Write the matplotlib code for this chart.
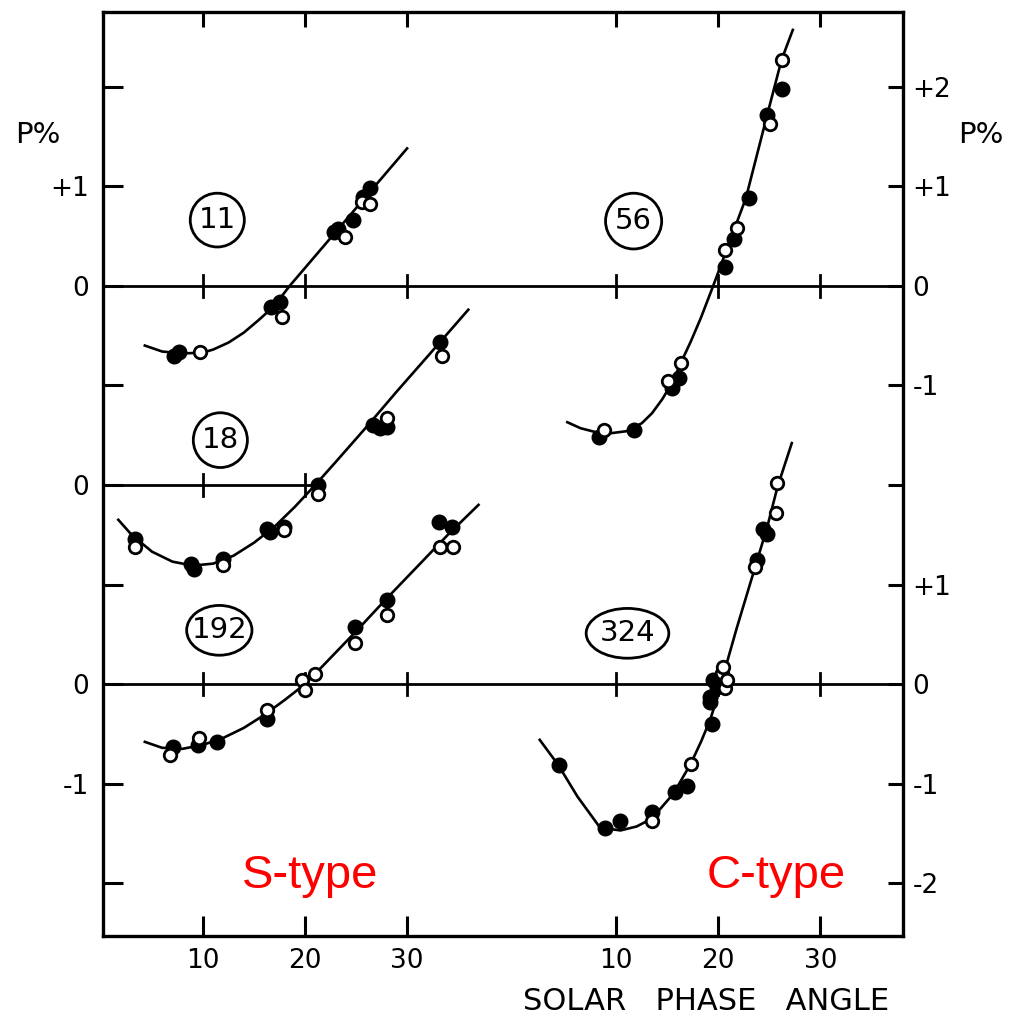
import numpy as np
import matplotlib.pyplot as plt
from matplotlib.patches import Ellipse

plt.rcParams['font.family'] = ['DejaVu Sans']

# phase angle (deg) and polarization P (%) for each asteroid
# filled = one filter, open = the other
a11_fill = [7.2, 7.6, 16.7, 17.5, 22.8, 23.2, 24.7, 25.7, 26.4]
p11_fill = [-0.70, -0.66, -0.21, -0.16, 0.54, 0.57, 0.66, 0.89, 0.98]
a11_open = [9.7, 17.7, 23.9, 25.6, 26.4]
p11_open = [-0.66, -0.31, 0.49, 0.84, 0.82]
a11_fit = [4.3, 6, 8, 10, 11, 12.5, 14, 15.5, 17, 18.5, 20, 22, 24, 26, 28, 30]
p11_fit = [-0.60, -0.66, -0.68, -0.67, -0.64, -0.57, -0.47, -0.34, -0.20, 0.0,
           0.18, 0.42, 0.66, 0.90, 1.14, 1.38]

a18_fill = [3.3, 8.8, 9.1, 12.0, 16.3, 16.6, 17.9, 21.3, 26.7, 27.3, 28.0, 33.2]
p18_fill = [-0.54, -0.79, -0.84, -0.74, -0.44, -0.47, -0.42, 0.0, 0.60, 0.57, 0.58, 1.44]
a18_open = [3.3, 12.0, 17.9, 21.3, 28.0, 33.4]
p18_open = [-0.62, -0.80, -0.45, -0.09, 0.67, 1.30]
a18_fit = [1.7, 3, 5, 7, 9, 11, 13, 15, 17, 19, 21, 23, 26, 29, 32, 36]
p18_fit = [-0.35, -0.50, -0.67, -0.77, -0.81, -0.79, -0.71, -0.58, -0.42, -0.22,
           0.0, 0.23, 0.58, 0.94, 1.29, 1.76]

a192_fill = [7.1, 9.5, 11.4, 16.3, 24.9, 28.0, 33.1, 34.4]
p192_fill = [-0.63, -0.61, -0.58, -0.35, 0.57, 0.84, 1.63, 1.58]
a192_open = [6.8, 9.6, 16.3, 19.7, 20.0, 21.0, 24.9, 28.0, 33.2, 34.5]
p192_open = [-0.71, -0.54, -0.26, 0.04, -0.06, 0.10, 0.41, 0.69, 1.38, 1.38]
a192_fit = [4.3, 6, 8, 10, 12, 14, 16, 18, 20, 22, 25, 28, 31, 34, 37]
p192_fit = [-0.58, -0.64, -0.65, -0.61, -0.54, -0.44, -0.31, -0.16, 0.0, 0.21,
            0.53, 0.86, 1.18, 1.50, 1.80]

a56_fill = [8.3, 11.7, 15.5, 16.1, 20.7, 21.5, 23.0, 24.8, 26.2]
p56_fill = [-1.52, -1.45, -1.03, -0.93, 0.19, 0.47, 0.88, 1.72, 1.98]
a56_open = [8.8, 15.1, 16.3, 20.7, 21.8, 25.1, 26.2]
p56_open = [-1.45, -0.96, -0.78, 0.36, 0.58, 1.63, 2.27]
a56_fit = [5.2, 6.5, 8, 9.5, 11, 12.5, 13.5, 14.5, 15.5, 16.3, 17.3, 18.3, 19.5,
           21.1, 22.7, 24.8, 26.2, 27.3]
p56_fit = [-1.37, -1.43, -1.47, -1.48, -1.46, -1.38, -1.28, -1.14, -0.97, -0.78,
           -0.56, -0.32, 0.0, 0.44, 0.88, 1.72, 2.27, 2.57]

a324_fill = [4.4, 8.9, 10.4, 13.5, 15.8, 16.9, 19.2, 19.2, 19.4, 19.5, 19.9, 23.8, 24.4, 24.8]
p324_fill = [-0.81, -1.45, -1.38, -1.28, -1.08, -1.02, -0.13, -0.18, -0.40, 0.04, -0.03,
             1.25, 1.56, 1.51]
a324_open = [13.5, 17.3, 20.4, 20.5, 20.7, 20.9, 23.6, 25.7, 25.8]
p324_open = [-1.37, -0.80, 0.11, 0.17, -0.04, 0.04, 1.18, 1.72, 2.02]
a324_fit = [2.5, 4.3, 6.2, 8.4, 10.4, 12, 13.5, 15.6, 17.3, 18.3, 19.2, 20.0, 20.8,
            21.8, 22.8, 23.8, 24.8, 25.8, 27.2]
p324_fit = [-0.56, -0.81, -1.13, -1.44, -1.47, -1.43, -1.35, -1.10, -0.80, -0.58,
            -0.36, -0.10, 0.20, 0.56, 0.90, 1.24, 1.58, 1.98, 2.42]

# S-type on the left, C-type shifted right; curves stacked by a P offset
right_shift = 40.5
panels = [
    ('11', a11_fill, p11_fill, a11_open, p11_open, a11_fit, p11_fit, 0, 4),
    ('18', a18_fill, p18_fill, a18_open, p18_open, a18_fit, p18_fit, 0, 2),
    ('192', a192_fill, p192_fill, a192_open, p192_open, a192_fit, p192_fit, 0, 0),
    ('56', a56_fill, p56_fill, a56_open, p56_open, a56_fit, p56_fit, right_shift, 4),
    ('324', a324_fill, p324_fill, a324_open, p324_open, a324_fit, p324_fit, right_shift, 0),
]

phase_ticks = [10, 20, 30]

fig = plt.figure(figsize=(10.13, 10.19), dpi=100)
ax = fig.add_axes([103 / 1013, 83 / 1019, 800 / 1013, 924 / 1019])
ax.set_xlim(0.2, 78.6)
ax.set_ylim(-2.53, 6.75)
for s in ax.spines.values():
    s.set_linewidth(2.4)

# zero lines for each row
ax.plot([0.2, 78.6], [4, 4], color='k', lw=2.0, zorder=1)
ax.plot([0.2, 20.6], [2, 2], color='k', lw=2.0, zorder=1)
ax.plot([0.2, 78.6], [0, 0], color='k', lw=2.0, zorder=1)
for shift in [0, right_shift]:
    for t in phase_ticks:
        for y0 in [0, 4]:
            ax.plot([t + shift] * 2, [y0 - 0.11, y0 + 0.11], color='k', lw=2.0, zorder=1)
for t in [10, 20]:
    ax.plot([t, t], [1.89, 2.11], color='k', lw=2.0, zorder=1)

for name, af, pf, ao, po, ac, pc, dx, dy in panels:
    ax.plot(np.array(ac) + dx, np.array(pc) + dy, color='k', lw=1.9, zorder=2)
    ax.plot(np.array(af) + dx, np.array(pf) + dy, 'o', color='k', ms=10.5, zorder=3)
    ax.plot(np.array(ao) + dx, np.array(po) + dy, 'o', mfc='white', mec='k',
            mew=2.0, ms=9, zorder=4)

# circled asteroid numbers
labels = [('11', 11.4, 4.66, 5.3, 0.54, 21),
          ('18', 11.7, 2.45, 5.3, 0.55, 21),
          ('192', 11.6, 0.54, 6.4, 0.50, 21),
          ('56', 52.2, 4.65, 5.5, 0.56, 21),
          ('324', 51.6, 0.51, 8.1, 0.50, 21)]
for txt, x, y, w, h, fs in labels:
    ax.add_patch(Ellipse((x, y), w, h, fill=False, lw=2.0, ec='k', zorder=2))
    ax.text(x, y, txt, ha='center', va='center', fontsize=fs, zorder=3)

# frame ticks
xt = [t for t in phase_ticks] + [t + right_shift for t in phase_ticks]
ax.set_xticks(xt, labels=[str(t) for t in phase_ticks] * 2)
ax.tick_params(axis='x', direction='in', length=14.5, width=2.2, labelsize=19, pad=9)
top = ax.secondary_xaxis('top')
top.set_xticks(xt, labels=[''] * len(xt))
top.tick_params(direction='in', length=11, width=2.2)

yt = [-2, -1, 0, 1, 2, 3, 4, 5, 6]
ax.set_yticks(yt, labels=['', '-1', '0', '', '0', '', '0', '+1', ''])
ax.tick_params(axis='y', direction='in', length=14.5, width=2.2, labelsize=19, pad=10)
right = ax.secondary_yaxis('right')
right.set_yticks(yt, labels=['-2', '-1', '0', '+1', '', '-1', '0', '+1', '+2'])
right.tick_params(direction='in', length=11, width=2.2, labelsize=19, pad=7)

fig.text(38 / 1013, 1 - 135 / 1019, 'P%', ha='center', va='center', fontsize=21)
fig.text(981 / 1013, 1 - 135 / 1019, 'P%', ha='center', va='center', fontsize=21)
fig.text(706 / 1013, 1 - 1001 / 1019, 'SOLAR   PHASE   ANGLE', ha='center', va='center',
         fontsize=22)

fig.text(310 / 1013, 1 - 888 / 1019, 'S-type', ha='center', va='baseline', color='red',
         fontsize=34, family='Liberation Sans')
fig.text(776 / 1013, 1 - 888 / 1019, 'C-type', ha='center', va='baseline', color='red',
         fontsize=34, family='Liberation Sans')

fig.savefig('out.png', dpi=100, facecolor='white')
